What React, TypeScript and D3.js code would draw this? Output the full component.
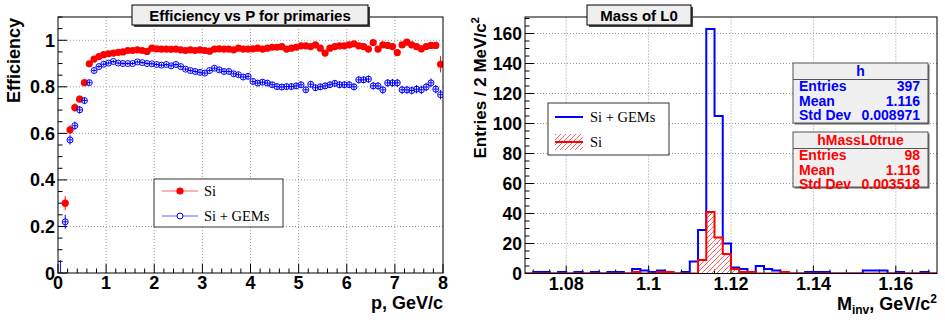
import React from "react";
import * as d3 from "d3";

// efficiency vs p, bins of 0.1 GeV/c from 0 to 8
const pBinWidth = 0.1;
const effSi: (number | null)[] = [
  null, 0.30, 0.615, 0.711, 0.747, 0.818, 0.899, 0.919, 0.930, 0.938,
  0.942, 0.945, 0.948, 0.950, 0.956, 0.956, 0.959, 0.956, 0.952, 0.966,
  0.963, 0.962, 0.962, 0.961, 0.962, 0.959, 0.956, 0.959, 0.956, 0.959,
  0.956, 0.953, 0.962, 0.963, 0.962, 0.962, 0.959, 0.966, 0.962, 0.962,
  0.963, 0.966, 0.962, 0.966, 0.970, 0.970, 0.973, 0.962, 0.966, 0.970,
  0.976, 0.976, 0.973, 0.980, 0.966, 0.945, 0.966, 0.973, 0.976, 0.976,
  0.980, 0.985, 0.976, 0.973, 0.962, 0.990, 0.962, 0.980, 0.978, 0.973,
  0.947, 0.980, 0.992, 0.980, 0.973, 0.963, 0.973, 0.978, 0.978, 0.897,
];
const errSi = [
  0, 0.03, 0.02, 0.018, 0.015, 0.012, 0.008, 0.007, 0.006, 0.006,
  0.005, 0.005, 0.005, 0.005, 0.005, 0.005, 0.005, 0.005, 0.005, 0.005,
  0.005, 0.005, 0.005, 0.005, 0.005, 0.005, 0.005, 0.005, 0.006, 0.006,
  0.006, 0.006, 0.006, 0.006, 0.006, 0.006, 0.007, 0.007, 0.007, 0.007,
  0.007, 0.007, 0.008, 0.008, 0.008, 0.008, 0.008, 0.009, 0.009, 0.009,
  0.009, 0.009, 0.01, 0.01, 0.01, 0.011, 0.01, 0.011, 0.011, 0.011,
  0.012, 0.012, 0.012, 0.012, 0.013, 0.012, 0.013, 0.013, 0.013, 0.014,
  0.015, 0.013, 0.012, 0.014, 0.014, 0.015, 0.014, 0.014, 0.014, 0.035,
];
const effGem: number[] = [
  0, 0.22, 0.572, 0.633, 0.701, 0.741, 0.818, 0.870, 0.887, 0.897,
  0.902, 0.909, 0.902, 0.900, 0.900, 0.900, 0.907, 0.904, 0.900, 0.899,
  0.896, 0.893, 0.896, 0.890, 0.896, 0.887, 0.876, 0.870, 0.866, 0.862,
  0.859, 0.870, 0.880, 0.873, 0.866, 0.866, 0.856, 0.852, 0.842, 0.845,
  0.823, 0.816, 0.820, 0.816, 0.809, 0.801, 0.799, 0.801, 0.801, 0.804,
  0.809, 0.787, 0.811, 0.796, 0.800, 0.804, 0.809, 0.815, 0.809, 0.809,
  0.809, 0.800, 0.830, 0.830, 0.833, 0.804, 0.804, 0.787, 0.817, 0.817,
  0.817, 0.787, 0.787, 0.784, 0.790, 0.787, 0.799, 0.817, 0.790, 0.766,
];
const errGem = [
  0.055, 0.03, 0.02, 0.018, 0.016, 0.014, 0.011, 0.009, 0.008, 0.008,
  0.007, 0.007, 0.007, 0.007, 0.007, 0.007, 0.007, 0.007, 0.007, 0.008,
  0.008, 0.008, 0.008, 0.008, 0.008, 0.008, 0.008, 0.009, 0.009, 0.009,
  0.009, 0.009, 0.009, 0.01, 0.01, 0.01, 0.01, 0.01, 0.011, 0.011,
  0.011, 0.011, 0.011, 0.012, 0.012, 0.012, 0.012, 0.012, 0.013, 0.013,
  0.013, 0.013, 0.013, 0.014, 0.014, 0.014, 0.014, 0.014, 0.015, 0.015,
  0.015, 0.015, 0.015, 0.015, 0.016, 0.016, 0.016, 0.016, 0.016, 0.017,
  0.017, 0.017, 0.017, 0.017, 0.018, 0.018, 0.018, 0.018, 0.018, 0.02,
];

// invariant mass histograms, 50 bins of 2 MeV from 1.07 to 1.17
const massMin = 1.07;
const massBin = 0.002;
const histGem = [
  0, 1, 1, 0, 1, 0, 1, 0, 1, 0,
  1, 1, 0, 3, 2, 1, 2, 1, 0, 1,
  8, 29, 163, 105, 20, 4, 3, 1, 5, 3,
  2, 1, 0, 0, 1, 1, 1, 0, 0, 0,
  0, 2, 2, 2, 0, 1, 0, 0, 1, 0,
];
const histSi = [
  0, 0, 0, 0, 0, 0, 0, 0, 0, 0,
  0, 0, 0, 1, 0, 0, 1, 1, 0, 0,
  0, 9, 41, 24, 13, 3, 1, 1, 0, 0,
  0, 1, 0, 0, 0, 0, 0, 0, 0, 0,
  0, 0, 0, 0, 0, 0, 0, 0, 0, 0,
];

const effYTicks = [0, 0.2, 0.4, 0.6, 0.8, 1];
const pTicks = [0, 1, 2, 3, 4, 5, 6, 7, 8];
const massXTicks = [1.08, 1.1, 1.12, 1.14, 1.16];
const countTicks = [0, 20, 40, 60, 80, 100, 120, 140, 160];

const statsGem = [["Entries", "397"], ["Mean", "1.116"], ["Std Dev", "0.008971"]];
const statsSi = [["Entries", "98"], ["Mean", "1.116"], ["Std Dev", "0.003518"]];

const RED = "#ff0000";
const BLUE = "#0000ff";
const SANS = "'Liberation Sans', Arial, Helvetica, sans-serif";
const SERIF = "'Liberation Serif', 'Times New Roman', serif";
const GRID = { stroke: "#9a9a9a", strokeWidth: 1, strokeDasharray: "1 2" };

function range(a: number, b: number, step: number) {
  return d3.range(Math.round((b - a) / step) + 1).map((i) => +(a + i * step).toFixed(6));
}

function TitleBox({ x, y, w, h, text }: { x: number; y: number; w: number; h: number; text: string }) {
  return (
    <g>
      <rect x={x + 2} y={y + 2} width={w} height={h} fill="#444" />
      <rect x={x} y={y} width={w} height={h} fill="#efefef" stroke="#000" strokeWidth={1} />
      <text x={x + w / 2} y={y + h / 2 + 5.5} textAnchor="middle" fontFamily={SANS} fontWeight="bold" fontSize={15}>
        {text}
      </text>
    </g>
  );
}

function EfficiencyPanel() {
  const x = d3.scaleLinear().domain([0, 8]).range([58, 443]);
  const y = d3.scaleLinear().domain([0, 1.1]).range([273, 17]);
  const [x0, x1] = x.range();
  const [y0, y1] = y.range();
  const xMinor = range(0, 8, 0.2).filter((v) => !pTicks.includes(v));
  const yMinor = range(0, 1.1, 0.05).filter((v) => !effYTicks.includes(+v.toFixed(2)));
  const pc = (i: number) => pBinWidth * i + pBinWidth / 2;

  return (
    <g>
      <defs>
        <clipPath id="clipL">
          <rect x={x0} y={y1} width={x1 - x0} height={y0 - y1} />
        </clipPath>
      </defs>
      {pTicks.slice(1, -1).map((v) => (
        <line key={"gx" + v} x1={x(v)} x2={x(v)} y1={y0} y2={y1} {...GRID} />
      ))}
      {effYTicks.slice(1).map((v) => (
        <line key={"gy" + v} x1={x0} x2={x1} y1={y(v)} y2={y(v)} {...GRID} />
      ))}
      {/* ticks */}
      {pTicks.map((v) => (
        <line key={"tx" + v} x1={x(v)} x2={x(v)} y1={y0} y2={y0 - 9} stroke="#000" />
      ))}
      {xMinor.map((v) => (
        <line key={"mx" + v} x1={x(v)} x2={x(v)} y1={y0} y2={y0 - 4.5} stroke="#000" />
      ))}
      {effYTicks.map((v) => (
        <line key={"ty" + v} x1={x0} x2={x0 + 9} y1={y(v)} y2={y(v)} stroke="#000" />
      ))}
      {yMinor.map((v) => (
        <line key={"my" + v} x1={x0} x2={x0 + 4.5} y1={y(v)} y2={y(v)} stroke="#000" />
      ))}
      <g clipPath="url(#clipL)">
        {effSi.map((v, i) =>
          v == null ? null : (
            <g key={"si" + i} stroke={RED} strokeWidth={1}>
              <line x1={x(pc(i) - pBinWidth / 2)} x2={x(pc(i) + pBinWidth / 2)} y1={y(v)} y2={y(v)} />
              <line x1={x(pc(i))} x2={x(pc(i))} y1={y(v - errSi[i])} y2={y(v + errSi[i])} />
              <circle cx={x(pc(i))} cy={y(v)} r={3.6} fill={RED} stroke="none" />
            </g>
          )
        )}
        {effGem.map((v, i) => (
          <g key={"gem" + i} stroke={BLUE} strokeWidth={1}>
            {v > 0 && <line x1={x(pc(i) - pBinWidth / 2)} x2={x(pc(i) + pBinWidth / 2)} y1={y(v)} y2={y(v)} />}
            <line x1={x(pc(i))} x2={x(pc(i))} y1={y(Math.max(0, v - errGem[i]))} y2={y(v + errGem[i])} />
            {v > 0 && <circle cx={x(pc(i))} cy={y(v)} r={3} fill="none" stroke={BLUE} />}
          </g>
        ))}
      </g>
      <rect x={x0} y={y1} width={x1 - x0} height={y0 - y1} fill="none" stroke="#000" strokeWidth={1} />
      {/* tick labels */}
      <g fontFamily={SANS} fontWeight="bold" fontSize={18}>
        {effYTicks.map((v) => (
          <text key={"ly" + v} x={55} y={y(v) + 6.5} textAnchor="end">
            {String(+v.toFixed(1))}
          </text>
        ))}
        {pTicks.map((v) => (
          <text key={"lx" + v} x={x(v)} y={289} textAnchor="middle">
            {String(v)}
          </text>
        ))}
        <text x={x1} y={309} textAnchor="end">p, GeV/c</text>
        <text transform={`translate(20,18) rotate(-90)`} textAnchor="end">Efficiency</text>
      </g>
      <TitleBox x={132} y={5} w={236} h={20} text="Efficiency vs P for primaries" />
      {/* legend */}
      <g>
        <rect x={154} y={179} width={129} height={48} fill="#fff" stroke="#333" strokeWidth={1} />
        <line x1={162} x2={198} y1={191} y2={191} stroke="#ff6060" strokeWidth={1} />
        <circle cx={180} cy={191} r={3.6} fill={RED} />
        <line x1={162} x2={198} y1={216} y2={216} stroke="#6060ff" strokeWidth={1} />
        <circle cx={180} cy={216} r={3} fill="#fff" stroke={BLUE} />
        <g fontFamily={SERIF} fontSize={14.5}>
          <text x={204} y={196}>Si</text>
          <text x={204} y={221}>Si + GEMs</text>
        </g>
      </g>
    </g>
  );
}

function StatsBox({ y, h, title, rows, color }: { y: number; h: number; title: string; rows: string[][]; color: string }) {
  const x = 793;
  const w = 135;
  const headH = 16.5;
  return (
    <g fontFamily={SANS} fontWeight="bold" fontSize={14} fill={color}>
      <rect x={x + 1.5} y={y + 1.5} width={w} height={h} fill="#666" />
      <rect x={x} y={y} width={w} height={h} fill="#f0f0f0" stroke="#555" strokeWidth={1} />
      <line x1={x} x2={x + w} y1={y + headH} y2={y + headH} stroke="#555" />
      <text x={x + w / 2} y={y + headH - 4} textAnchor="middle">{title}</text>
      {rows.map((r, i) => (
        <g key={r[0]}>
          <text x={x + 6} y={y + headH + 11.5 + i * 14.5}>{r[0]}</text>
          <text x={x + w - 8} y={y + headH + 11.5 + i * 14.5} textAnchor="end">{r[1]}</text>
        </g>
      ))}
    </g>
  );
}

function MassPanel() {
  const x = d3.scaleLinear().domain([1.07, 1.17]).range([525, 937]);
  const y = d3.scaleLinear().domain([0, 171]).range([273.5, 17]);
  const [x0, x1] = x.range();
  const [y0, y1] = y.range();
  const xMinor = range(1.072, 1.168, 0.004).filter((v) => !massXTicks.some((t) => Math.abs(t - v) < 1e-6));
  const yMinor = range(0, 170, 5).filter((v) => v % 20 !== 0);

  const stepPoints = (counts: number[]) => {
    const pts: [number, number][] = [[massMin, 0]];
    counts.forEach((c, i) => pts.push([massMin + i * massBin, c]));
    pts.push([massMin + counts.length * massBin, counts[counts.length - 1]]);
    pts.push([massMin + counts.length * massBin, 0]);
    return pts;
  };
  const line = d3
    .line<[number, number]>()
    .x((d) => x(d[0]))
    .y((d) => y(d[1]))
    .curve(d3.curveStepAfter);
  const area = d3
    .area<[number, number]>()
    .x((d) => x(d[0]))
    .y0(y(0))
    .y1((d) => y(d[1]))
    .curve(d3.curveStepAfter);

  return (
    <g>
      <defs>
        <clipPath id="clipR">
          <rect x={x0} y={y1} width={x1 - x0} height={y0 - y1} />
        </clipPath>
        <pattern id="hatch" patternUnits="userSpaceOnUse" width={5} height={5}>
          <path d="M-1,1 L1,-1 M0,5 L5,0 M4,6 L6,4" stroke="#ff5050" strokeWidth={0.9} />
        </pattern>
      </defs>
      {massXTicks.map((v) => (
        <line key={"gx" + v} x1={x(v)} x2={x(v)} y1={y0} y2={y1} {...GRID} />
      ))}
      {countTicks.slice(1).map((v) => (
        <line key={"gy" + v} x1={x0} x2={x1} y1={y(v)} y2={y(v)} {...GRID} />
      ))}
      {massXTicks.map((v) => (
        <line key={"tx" + v} x1={x(v)} x2={x(v)} y1={y0} y2={y0 - 8} stroke="#000" />
      ))}
      {xMinor.map((v) => (
        <line key={"mx" + v} x1={x(v)} x2={x(v)} y1={y0} y2={y0 - 4} stroke="#000" />
      ))}
      {countTicks.map((v) => (
        <line key={"ty" + v} x1={x0} x2={x0 + 9} y1={y(v)} y2={y(v)} stroke="#000" />
      ))}
      {yMinor.map((v) => (
        <line key={"my" + v} x1={x0} x2={x0 + 4.5} y1={y(v)} y2={y(v)} stroke="#000" />
      ))}
      <g clipPath="url(#clipR)">
        <path d={line(stepPoints(histGem)) || ""} fill="none" stroke={BLUE} strokeWidth={2} />
        <path d={area(stepPoints(histSi)) || ""} fill="url(#hatch)" stroke="none" />
        <path d={line(stepPoints(histSi)) || ""} fill="none" stroke={RED} strokeWidth={2} />
      </g>
      <rect x={x0} y={y1} width={x1 - x0} height={y0 - y1} fill="none" stroke="#000" strokeWidth={1} />
      <g fontFamily={SANS} fontWeight="bold">
        {countTicks.map((v) => (
          <text key={"ly" + v} x={522} y={y(v) + 6.5} textAnchor="end" fontSize={17.5}>
            {String(v)}
          </text>
        ))}
        {massXTicks.map((v) => (
          <text key={"lx" + v} x={x(v)} y={290} textAnchor="middle" fontSize={18}>
            {String(+v.toFixed(2))}
          </text>
        ))}
        <text x={x1} y={310} textAnchor="end" fontSize={18}>
          M<tspan fontSize={12} dy={4}>inv</tspan>
          <tspan dy={-4}>, GeV/c</tspan>
          <tspan fontSize={12} dy={-7}>2</tspan>
        </text>
        <text transform={`translate(486,17) rotate(-90)`} textAnchor="end" fontSize={17}>
          Entries / 2 MeV/c<tspan fontSize={11.5} dy={-7}>2</tspan>
        </text>
      </g>
      <TitleBox x={587} y={5} w={104} h={20} text="Mass of L0" />
      {/* legend */}
      <g>
        <rect x={548} y={103} width={121} height={52} fill="#fff" stroke="#333" strokeWidth={1} />
        <line x1={555} x2={583} y1={117} y2={117} stroke={BLUE} strokeWidth={2} />
        <rect x={555} y={134} width={28} height={16} fill="url(#hatch)" />
        <line x1={555} x2={583} y1={142} y2={142} stroke={RED} strokeWidth={2} />
        <g fontFamily={SERIF} fontSize={14.5}>
          <text x={590} y={122}>Si + GEMs</text>
          <text x={590} y={147}>Si</text>
        </g>
      </g>
      <StatsBox y={63} h={60} title="h" rows={statsGem} color={BLUE} />
      <StatsBox y={132} h={55} title="hMassL0true" rows={statsSi} color={RED} />
    </g>
  );
}

export default function App() {
  return (
    <svg
      width={945}
      height={320}
      style={{ position: "absolute", left: 0, top: 0, background: "#fff" }}
    >
      <rect width={945} height={320} fill="#fff" />
      <EfficiencyPanel />
      <MassPanel />
    </svg>
  );
}
